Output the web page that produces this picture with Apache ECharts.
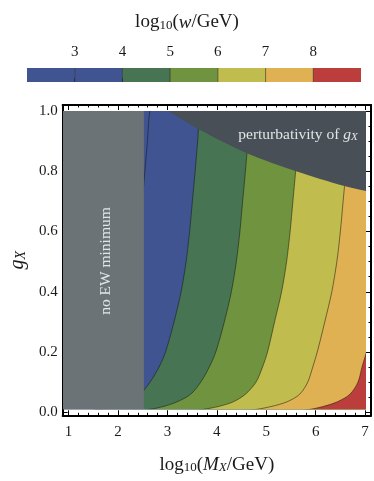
<!DOCTYPE html>
<html>
<head>
<meta charset="utf-8">
<script src="https://cdn.jsdelivr.net/npm/echarts@6/dist/echarts.min.js"></script>
<style>
    html, body { margin: 0; padding: 0; background: #fff; }
    #main { width: 374px; height: 481px; }
</style>
</head>
<body>
<div id="main"></div>
<script>
    var gGrid = [0.01, 0.02, 0.035, 0.06, 0.1, 0.15, 0.2, 0.3, 0.4, 0.5, 0.6, 0.7, 0.8, 0.9, 1.0];
    // log10(M_X/GeV) of each contour log10(w/GeV) = const, one value per gGrid entry
    var contourW3 = [0.70, 1.00, 1.25, 1.52, 1.72, 1.90, 2.03, 2.20, 2.34, 2.44, 2.51, 2.565, 2.62, 2.67, 2.72];
    var contourW4 = [1.70, 2.00, 2.25, 2.52, 2.72, 2.90, 3.03, 3.20, 3.34, 3.44, 3.51, 3.565, 3.62, 3.67, 3.72];
    var contourW5 = [2.72, 3.00, 3.26, 3.53, 3.73, 3.90, 4.03, 4.20, 4.34, 4.44, 4.51, 4.565, 4.62, 4.67, 4.72];
    var contourW6 = [3.79, 4.10, 4.38, 4.62, 4.83, 4.96, 5.06, 5.20, 5.34, 5.44, 5.51, 5.565, 5.62, 5.67, 5.72];
    var contourW7 = [4.85, 5.15, 5.45, 5.70, 5.86, 5.96, 6.05, 6.20, 6.34, 6.44, 6.51, 6.565, 6.62, 6.67, 6.72];
    var contourW8 = [5.91, 6.18, 6.45, 6.70, 6.86, 6.94, 7.03, 7.19, 7.34, 7.44, 7.51, 7.565, 7.62, 7.67, 7.72];
    var contourLevels = [3, 4, 5, 6, 7, 8];
    var contours = [contourW3, contourW4, contourW5, contourW6, contourW7, contourW8];

    // perturbativity limit on g_X
    var pertX = [3.09, 3.72, 4.65, 5.63, 6.59, 7.0];
    var pertG = [1.0, 0.937, 0.86, 0.80, 0.751, 0.735];
    // no EW minimum below this log10(M_X/GeV)
    var noEwEdge = 2.6;

    // colour bar
    var barEdges = [2, 3, 4, 5, 6, 7, 8, 9];
    var barColors = ['#3f5491', '#3f5491', '#477553', '#6f933f', '#c0bc4e', '#e0b152', '#bb3e3c'];
    var barTicks = [3, 4, 5, 6, 7, 8];
    var barMarks = [3, 4];

    var xTickLabels = [1, 2, 3, 4, 5, 6, 7];
    var gTickLabels = [0, 0.2, 0.4, 0.6, 0.8, 1.0];

    var serif = "'Liberation Serif', 'DejaVu Serif', serif";
    var ink = '#1a1a1a';
    var pale = '#e2e5e5';

    // plot range and frame (frame has 2% padding like the original)
    var xData = [1, 7], gData = [0.01, 1.0];
    var xFrame = [0.88, 7.12], gFrame = [-0.0098, 1.0198];
    var frame = {left: 57.5, top: 105, width: 313.5, height: 310.3};
    var sx = frame.width / (xFrame[1] - xFrame[0]);
    var sy = frame.height / (gFrame[1] - gFrame[0]);
    var inner = {
        left: frame.left + (xData[0] - xFrame[0]) * sx,
        top: frame.top + (gFrame[1] - gData[1]) * sy,
        width: (xData[1] - xData[0]) * sx,
        height: (gData[1] - gData[0]) * sy
    };

    var xMinor = [], gMinor = [];
    for (var i = 5; i <= 35; i++) { if (i % 5) xMinor.push(i / 5); }
    for (var j = 0; j <= 20; j++) { if (j % 4) gMinor.push(j / 20); }

    function rich(size) {
        var lh = size + 6, sub = Math.round(size * 0.68);
        var base = {fontFamily: serif, fontWeight: 'normal', color: ink, verticalAlign: 'bottom'};
        return {
            r: Object.assign({fontSize: size, lineHeight: lh}, base),
            i: Object.assign({fontSize: size, lineHeight: lh, fontStyle: 'italic'}, base),
            s: Object.assign({fontSize: sub, lineHeight: sub}, base),
            si: Object.assign({fontSize: sub, lineHeight: sub, fontStyle: 'italic'}, base)
        };
    }

    // contour points with one point outside the plot on each end (keeps smoothing clean)
    function contourPoints(xs) {
        var n = gGrid.length - 1;
        var pts = [[xs[0] - 2, gGrid[0] - 0.05]];
        for (var k = 0; k <= n; k++) pts.push([xs[k], gGrid[k]]);
        pts.push([xs[n] + 0.3, gGrid[n] + 0.2]);
        return pts;
    }

    var layers = [];
    layers.push({kind: 'poly', pts: [[0, -1], [0, 2], [9, 2], [9, -1]], fill: barColors[0], smooth: 0});
    contours.forEach(function (xs, k) {
        var pts = contourPoints(xs).concat([[9, 1.3], [9, -0.1]]);
        layers.push({kind: 'poly', pts: pts, fill: barColors[barEdges.indexOf(contourLevels[k])], smooth: 0.3});
    });
    contours.forEach(function (xs) {
        layers.push({kind: 'line', pts: contourPoints(xs)});
    });
    var pertPts = [[2.8, 1.04]];
    pertX.forEach(function (x, k) { pertPts.push([x, pertG[k]]); });
    pertPts = pertPts.concat([[7.4, 0.72], [7.6, 1.3], [2.8, 1.3]]);
    layers.push({kind: 'poly', pts: pertPts, fill: '#484f57', smooth: 0.3});
    layers.push({kind: 'rect', x0: xData[0] - 1, x1: noEwEdge, fill: '#6b7376'});
    layers.push({kind: 'text', at: [1.846, 0.502], rot: Math.PI / 2,
        text: '{a|no EW minimum}', rich: {a: {fontFamily: serif, fontSize: 15.5, fill: pale}}});
    layers.push({kind: 'text', at: [5.667, 0.927], rot: 0,
        text: '{a|perturbativity of }{i|g}{s|X}', rich: {
            a: {fontFamily: serif, fontSize: 15.5, lineHeight: 20, fill: pale, verticalAlign: 'bottom'},
            i: {fontFamily: serif, fontSize: 15.5, fontStyle: 'italic', lineHeight: 20, fill: pale, verticalAlign: 'bottom'},
            s: {fontFamily: serif, fontSize: 11, fontStyle: 'italic', lineHeight: 10, fill: pale, verticalAlign: 'bottom'}
        }});

    function renderLayer(params, api) {
        var L = layers[params.dataIndex];
        var px = function (p) { return api.coord(p); };
        if (L.kind === 'poly') {
            return {type: 'polygon', shape: {points: L.pts.map(px), smooth: L.smooth}, style: {fill: L.fill}};
        }
        if (L.kind === 'line') {
            return {type: 'polyline', shape: {points: L.pts.map(px), smooth: 0.3},
                style: {fill: null, stroke: 'rgba(25,25,20,0.6)', lineWidth: 0.9}};
        }
        if (L.kind === 'rect') {
            var a = px([L.x0, gData[1] + 0.1]), b = px([L.x1, gData[0] - 0.1]);
            return {type: 'rect', shape: {x: a[0], y: a[1], width: b[0] - a[0], height: b[1] - a[1]}, style: {fill: L.fill}};
        }
        var c = px(L.at);
        return {type: 'text', x: c[0], y: c[1], rotation: L.rot,
            style: {text: L.text, rich: L.rich, fill: pale, align: 'center', verticalAlign: 'middle'}};
    }

    function renderBand(params, api) {
        var k = params.dataIndex;
        var a = api.coord([barEdges[k], 1]), b = api.coord([barEdges[k + 1], 0]);
        var kids = [{type: 'rect', shape: {x: a[0], y: a[1], width: b[0] - a[0], height: b[1] - a[1]},
            style: {fill: barColors[k]}}];
        if (k > 0) {
            kids.push({type: 'line', shape: {x1: a[0], y1: a[1], x2: a[0], y2: b[1]},
                style: {stroke: 'rgba(20,20,20,0.55)', lineWidth: 1}});
        }
        return {type: 'group', children: kids};
    }

    function frameAxis(grid, pos, range, ticks, len, line) {
        return {
            gridIndex: grid, type: 'value', position: pos, min: range[0], max: range[1],
            axisLine: {show: line, onZero: false, lineStyle: {color: '#000', width: 2}},
            axisTick: {show: true, inside: true, length: len, customValues: ticks, lineStyle: {color: '#000', width: 1}},
            axisLabel: {show: false},
            splitLine: {show: false}
        };
    }

    var xAxes = [
        frameAxis(0, 'bottom', xFrame, xTickLabels, 5, true),
        frameAxis(0, 'bottom', xFrame, xMinor, 2.5, false),
        frameAxis(0, 'top', xFrame, xTickLabels, 5, true),
        frameAxis(0, 'top', xFrame, xMinor, 2.5, false),
        {gridIndex: 1, type: 'value', show: false, min: xData[0], max: xData[1]},
        {gridIndex: 2, type: 'value', position: 'top', min: barEdges[0], max: barEdges[barEdges.length - 1],
            axisLine: {show: false},
            axisTick: {show: true, inside: false, length: 4, customValues: barMarks, lineStyle: {color: '#333', width: 1}},
            axisLabel: {show: true, customValues: barTicks, margin: 8, fontFamily: serif, fontSize: 15, color: ink},
            splitLine: {show: false}}
    ];
    xAxes[0].axisLabel = {show: true, customValues: xTickLabels, margin: 9, fontFamily: serif, fontSize: 15, color: ink};
    xAxes[0].name = '{r|log}{s|10}{r|(}{i|M}{si|X}{r|/GeV)}';
    xAxes[0].nameLocation = 'middle';
    xAxes[0].nameGap = 34;
    xAxes[0].nameTextStyle = {rich: rich(19)};

    var yAxes = [
        frameAxis(0, 'left', gFrame, gTickLabels, 5, true),
        frameAxis(0, 'left', gFrame, gMinor, 2.5, false),
        frameAxis(0, 'right', gFrame, gTickLabels, 5, true),
        frameAxis(0, 'right', gFrame, gMinor, 2.5, false),
        {gridIndex: 1, type: 'value', show: false, min: gData[0], max: gData[1]},
        {gridIndex: 2, type: 'value', show: false, min: 0, max: 1}
    ];
    yAxes[0].axisLabel = {show: true, customValues: gTickLabels, margin: 5, fontFamily: serif, fontSize: 15, color: ink,
        formatter: function (v) { return v.toFixed(1); }};
    yAxes[0].name = '{i|g}{si|X}';
    yAxes[0].nameLocation = 'middle';
    yAxes[0].nameGap = 29;
    yAxes[0].nameRotate = 90;
    yAxes[0].nameTextStyle = {rich: rich(20)};

    var option = {
        animation: false,
        backgroundColor: '#fff',
        title: {
            text: '{r|log}{s|10}{r|(}{i|w}{r|/GeV)}',
            left: 'center', top: 2,
            textStyle: {fontWeight: 'normal', rich: rich(19)}
        },
        grid: [
            {left: frame.left, top: frame.top, width: frame.width, height: frame.height},
            {left: inner.left, top: inner.top, width: inner.width, height: inner.height},
            {left: 27, top: 68, width: 334, height: 14}
        ],
        xAxis: xAxes,
        yAxis: yAxes,
        series: [
            {
                type: 'custom', name: 'regions', xAxisIndex: 4, yAxisIndex: 4, clip: true, silent: true,
                renderItem: renderLayer,
                data: layers.map(function (l, k) { return [k, 0]; })
            },
            {
                type: 'custom', name: 'colour bar', xAxisIndex: 5, yAxisIndex: 5, silent: true,
                renderItem: renderBand,
                data: barColors.map(function (c, k) { return [k, 0]; })
            }
        ]
    };

    var chart = echarts.init(document.getElementById('main'));
    chart.setOption(option);
</script>
</body>
</html>
